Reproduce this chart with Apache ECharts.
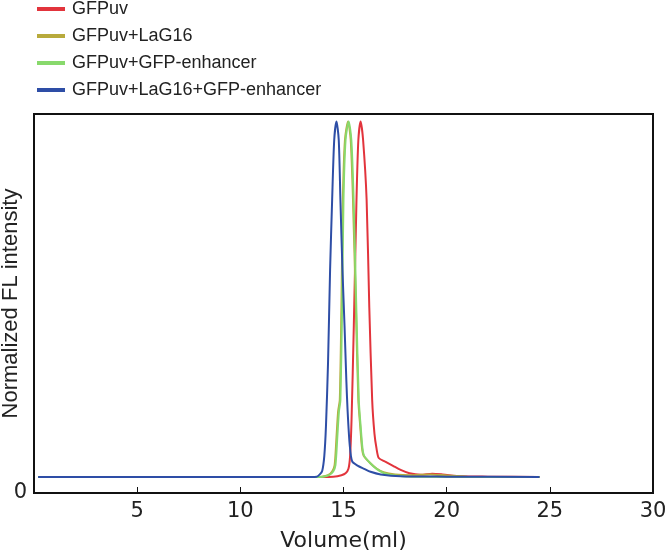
<!DOCTYPE html>
<html><head><meta charset="utf-8">
<script src="https://cdn.jsdelivr.net/npm/echarts@6/dist/echarts.min.js"></script>
<style>html,body{margin:0;padding:0;background:#fff}#c{width:666px;height:550px}</style>
</head><body><div id="c"></div>
<script>
const seriesNames = ['GFPuv','GFPuv+LaG16','GFPuv+GFP-enhancer','GFPuv+LaG16+GFP-enhancer'];
const xTicks = [0,5,10,15,20,25,30];
const gfpuv = [[0.2,0.043],[14.0,0.043],[14.5,0.044],[14.9,0.048],[15.1,0.053],[15.24,0.065],[15.32,0.1],[15.39,0.197],[15.5,0.45],[15.63,0.79],[15.72,0.95],[15.83,1.0],[15.95,0.95],[16.12,0.79],[16.25,0.5],[16.39,0.25],[16.5,0.16],[16.6,0.12],[16.71,0.094],[17.0,0.085],[17.4,0.073],[17.77,0.062],[18.2,0.053],[18.74,0.049],[19.3,0.052],[19.8,0.05],[20.7,0.045],[22,0.044],[24.5,0.043]];
const gfpuvLag16 = [[0.2,0.043],[13.5,0.043],[13.95,0.044],[14.25,0.048],[14.45,0.058],[14.57,0.075],[14.66,0.15],[14.74,0.22],[14.82,0.25],[14.9,0.5],[14.97,0.79],[15.07,0.95],[15.22,1.0],[15.35,0.95],[15.46,0.79],[15.6,0.5],[15.72,0.25],[15.81,0.18],[15.9,0.12],[15.98,0.1],[16.3,0.08],[16.6,0.066],[16.94,0.056],[17.5,0.05],[18.3,0.048],[19.2,0.05],[20.0,0.047],[21,0.044],[24.5,0.043]];
const gfpuvEnh = [[0.2,0.043],[13.5,0.043],[14.0,0.044],[14.3,0.048],[14.5,0.058],[14.61,0.075],[14.7,0.15],[14.78,0.22],[14.85,0.25],[14.93,0.5],[15.0,0.79],[15.1,0.95],[15.25,1.0],[15.38,0.95],[15.49,0.79],[15.62,0.5],[15.74,0.25],[15.83,0.18],[15.92,0.12],[16.0,0.1],[16.3,0.08],[16.6,0.065],[16.94,0.054],[17.5,0.047],[18.3,0.044],[24.5,0.043]];
const gfpuvLag16Enh = [[0.2,0.043],[13.0,0.043],[13.7,0.044],[13.85,0.05],[13.97,0.06],[14.07,0.1],[14.15,0.18],[14.25,0.35],[14.35,0.6],[14.45,0.79],[14.55,0.95],[14.66,1.0],[14.77,0.95],[14.85,0.79],[14.95,0.6],[15.05,0.45],[15.14,0.3],[15.2,0.22],[15.3,0.13],[15.42,0.085],[15.7,0.073],[16.0,0.065],[16.31,0.057],[16.8,0.05],[17.77,0.045],[20,0.044],[24.5,0.043]];
const colors = ['#e2343c','#b8aa3c','#88d96c','#2e4ea6'];
const datasets = [gfpuv, gfpuvLag16, gfpuvEnh, gfpuvLag16Enh];

const chart = echarts.init(document.getElementById('c'));
chart.setOption({
  animation:false,
  backgroundColor:'#fff',
  legend:{
    orient:'vertical', left:32, top:-5, itemWidth:28, itemHeight:4, itemGap:9,
    icon:'rect',
    textStyle:{fontFamily:'Liberation Sans', fontSize:18, color:'#222', padding:[0,0,0,2]},
    data:seriesNames
  },
  grid:{left:34, right:13, top:114, bottom:57, show:true, borderColor:'#111', borderWidth:2, containLabel:false, outerBoundsMode:'none'},
  xAxis:{
    type:'value', min:xTicks[0], max:xTicks[xTicks.length-1], interval:5,
    axisLine:{show:true, lineStyle:{color:'#111', width:2}},
    axisTick:{show:true, inside:true, length:6, lineStyle:{color:'#111', width:1}},
    splitLine:{show:false},
    axisLabel:{fontFamily:'DejaVu Sans', fontSize:21, color:'#222', margin:8,
      formatter:v=> v===0 ? '' : String(v)},
    name:'Volume(ml)', nameLocation:'middle', nameGap:37, nameMoveOverlap:false,
    nameTextStyle:{fontFamily:'DejaVu Sans', fontSize:22, color:'#222', verticalAlign:'top'}
  },
  yAxis:{
    type:'value', min:0, max:1.02, interval:1,
    axisLine:{show:true, lineStyle:{color:'#111', width:2}},
    axisTick:{show:false},
    splitLine:{show:false},
    axisLabel:{fontFamily:'DejaVu Sans', fontSize:21, color:'#222', margin:7, verticalAlign:'middle', padding:[0,0,10,0],
      formatter:v=> v===0 ? '0' : ''},
    name:'Normalized FL intensity', nameLocation:'middle', nameGap:12, nameMoveOverlap:false,
    nameTextStyle:{fontFamily:'Liberation Sans', fontSize:22, color:'#222', verticalAlign:'bottom'}
  },
  series: datasets.map((d,i)=>({
    name:seriesNames[i], type:'line', data:d, showSymbol:false, smooth:0.25,
    lineStyle:{color:colors[i], width:2}, itemStyle:{color:colors[i]}, z:2+i
  }))
});
</script></body></html>
